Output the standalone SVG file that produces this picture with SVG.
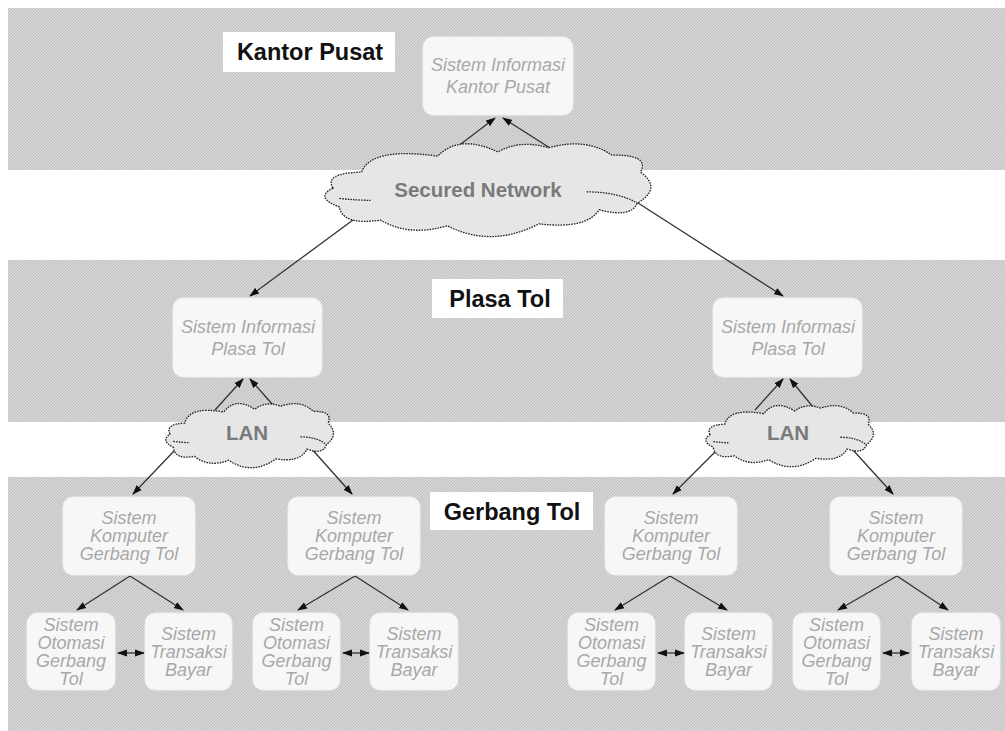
<svg xmlns="http://www.w3.org/2000/svg" xmlns:xlink="http://www.w3.org/1999/xlink" width="1005" height="731" viewBox="0 0 1005 731">
<style>
.band{fill:url(#hatch)}
.lbl{fill:#ffffff}
.lbltxt{font-family:"Liberation Sans",Arial,sans-serif;font-weight:bold;font-size:23.5px;fill:#111;text-anchor:middle}
.node rect{fill:#f7f7f7;stroke:#efefef;stroke-width:1}
.node text{font-family:"Liberation Sans",Arial,sans-serif;font-style:italic;font-size:18px;fill:#a8a8a8;text-anchor:middle}
.cloud{fill:#e6e6e6;stroke:#222;stroke-width:1.3;stroke-dasharray:1.6 1.1}
.inner{fill:none;stroke:#222;stroke-width:1.3;stroke-dasharray:1.6 1.1}
.cloudtxt{font-family:"Liberation Sans",Arial,sans-serif;font-weight:bold;font-size:20.5px;fill:#7a7a7a;text-anchor:middle}
.conn line{stroke:#333;stroke-width:1.3;marker-end:url(#ah)}
.conn line.dbl{marker-start:url(#ah2)}
</style>
<defs>
<pattern id="hatch" patternUnits="userSpaceOnUse" width="3" height="3">
<rect width="3" height="3" fill="#d5d5d5"/>
<path d="M-1,1 L1,-1 M0,3 L3,0 M2,4 L4,2" stroke="#bebebe" stroke-width="0.9"/>
</pattern>
<marker id="ah" markerUnits="userSpaceOnUse" markerWidth="10" markerHeight="8" refX="9" refY="4" orient="auto">
<path d="M0,0.5 L10,4 L0,7.5 Z" fill="#111"/>
</marker>
<marker id="ah2" markerUnits="userSpaceOnUse" markerWidth="10" markerHeight="8" refX="9" refY="4" orient="auto-start-reverse">
<path d="M0,0.5 L10,4 L0,7.5 Z" fill="#111"/>
</marker>
<path id="cloudShape" vector-effect="non-scaling-stroke" d="M0,48 Q-3,32 9,31 Q12,4 33,14 Q40,-10 52,9.6 Q59,-4 68,5 Q80,-6 88,13 Q100,12 97,31 Q104,48 96,64 Q94,80 84,71 Q80,92 65,86 Q50,112 36,88 Q24,100 15,82 Q3,88 2,68 Q-6,58 0,48 Z"/>
<path id="cloudInner" vector-effect="non-scaling-stroke" d="M80,52 Q90,52 96,64 M2,59 Q8,61 12,61"/>
</defs>

<g id="bands">
<rect class="band" x="8" y="8" width="997" height="162"/>
<rect class="band" x="8" y="260" width="997" height="162"/>
<rect class="band" x="8" y="477" width="997" height="254"/>
</g>

<g id="label-kantor-pusat">
<rect class="lbl" x="223" y="32" width="172" height="40"/>
<text class="lbltxt" x="310" y="60">Kantor Pusat</text>
</g>
<g id="label-plasa-tol">
<rect class="lbl" x="432" y="279" width="131" height="39"/>
<text class="lbltxt" x="500" y="307">Plasa Tol</text>
</g>
<g id="label-gerbang-tol">
<rect class="lbl" x="430" y="492" width="163" height="38"/>
<text class="lbltxt" x="512" y="520">Gerbang Tol</text>
</g>

<g id="connectors" class="conn">
<line x1="457" y1="147" x2="495" y2="118"/>
<line x1="550" y1="148" x2="503" y2="118"/>
<line x1="353" y1="220" x2="250" y2="296"/>
<line x1="638" y1="203" x2="783" y2="296"/>
<line x1="215" y1="410" x2="243" y2="379"/>
<line x1="273" y1="405" x2="250" y2="379"/>
<line x1="755" y1="410" x2="783" y2="379"/>
<line x1="813" y1="407" x2="790" y2="379"/>
<line x1="175" y1="450" x2="133" y2="494"/>
<line x1="310" y1="447" x2="352" y2="494"/>
<line x1="715" y1="452" x2="673" y2="494"/>
<line x1="853" y1="450" x2="893" y2="494"/>
<line x1="130" y1="576" x2="77" y2="610"/>
<line x1="130" y1="576" x2="183" y2="610"/>
<line x1="355" y1="576" x2="298" y2="610"/>
<line x1="355" y1="576" x2="408" y2="610"/>
<line x1="670" y1="576" x2="615" y2="610"/>
<line x1="670" y1="576" x2="727" y2="610"/>
<line x1="897" y1="576" x2="838" y2="610"/>
<line x1="897" y1="576" x2="948" y2="610"/>
<line class="dbl" x1="118" y1="653" x2="144" y2="653"/>
<line class="dbl" x1="343" y1="653" x2="369" y2="653"/>
<line class="dbl" x1="658" y1="653" x2="684" y2="653"/>
<line class="dbl" x1="883" y1="653" x2="909" y2="653"/>
</g>

<g id="cloud-secured-network">
<use xlink:href="#cloudShape" class="cloud" transform="translate(333,143) scale(3.17,0.94)"/>
<use xlink:href="#cloudInner" class="inner" transform="translate(333,143) scale(3.17,0.94)"/>
<text class="cloudtxt" x="478" y="197">Secured Network</text>
</g>
<g id="cloud-lan-left">
<use xlink:href="#cloudShape" class="cloud" transform="translate(170,403) scale(1.63,0.65)"/>
<use xlink:href="#cloudInner" class="inner" transform="translate(170,403) scale(1.63,0.65)"/>
<text class="cloudtxt" x="247" y="440">LAN</text>
</g>
<g id="cloud-lan-right">
<use xlink:href="#cloudShape" class="cloud" transform="translate(710,405) scale(1.63,0.62)"/>
<use xlink:href="#cloudInner" class="inner" transform="translate(710,405) scale(1.63,0.62)"/>
<text class="cloudtxt" x="788" y="440">LAN</text>
</g>

<g id="node-si-kantor-pusat" class="node">
<rect x="423" y="37" width="150" height="78" rx="10"/>
<text x="498" y="71">Sistem Informasi</text>
<text x="498" y="93">Kantor Pusat</text>
</g>
<g id="node-si-plasa-tol-1" class="node">
<rect x="173" y="298" width="149" height="79" rx="10"/>
<text x="248" y="333">Sistem Informasi</text>
<text x="248" y="355">Plasa Tol</text>
</g>
<g id="node-si-plasa-tol-2" class="node">
<rect x="713" y="298" width="149" height="79" rx="10"/>
<text x="788" y="333">Sistem Informasi</text>
<text x="788" y="355">Plasa Tol</text>
</g>

<g id="node-skgt-1" class="node">
<rect x="63" y="497" width="132" height="78" rx="10"/>
<text x="129" y="524">Sistem</text>
<text x="129" y="542">Komputer</text>
<text x="129" y="560">Gerbang Tol</text>
</g>
<g id="node-skgt-2" class="node">
<rect x="288" y="497" width="132" height="78" rx="10"/>
<text x="354" y="524">Sistem</text>
<text x="354" y="542">Komputer</text>
<text x="354" y="560">Gerbang Tol</text>
</g>
<g id="node-skgt-3" class="node">
<rect x="605" y="497" width="132" height="78" rx="10"/>
<text x="671" y="524">Sistem</text>
<text x="671" y="542">Komputer</text>
<text x="671" y="560">Gerbang Tol</text>
</g>
<g id="node-skgt-4" class="node">
<rect x="830" y="497" width="132" height="78" rx="10"/>
<text x="896" y="524">Sistem</text>
<text x="896" y="542">Komputer</text>
<text x="896" y="560">Gerbang Tol</text>
</g>

<g id="node-sogt-1" class="node">
<rect x="27" y="613" width="88" height="77" rx="10"/>
<text x="71" y="631">Sistem</text>
<text x="71" y="649">Otomasi</text>
<text x="71" y="667">Gerbang</text>
<text x="71" y="685">Tol</text>
</g>
<g id="node-stb-1" class="node">
<rect x="145" y="613" width="87" height="77" rx="10"/>
<text x="188.5" y="640">Sistem</text>
<text x="188.5" y="658">Transaksi</text>
<text x="188.5" y="676">Bayar</text>
</g>
<g id="node-sogt-2" class="node">
<rect x="253" y="613" width="87" height="77" rx="10"/>
<text x="296.5" y="631">Sistem</text>
<text x="296.5" y="649">Otomasi</text>
<text x="296.5" y="667">Gerbang</text>
<text x="296.5" y="685">Tol</text>
</g>
<g id="node-stb-2" class="node">
<rect x="370" y="613" width="88" height="77" rx="10"/>
<text x="414" y="640">Sistem</text>
<text x="414" y="658">Transaksi</text>
<text x="414" y="676">Bayar</text>
</g>
<g id="node-sogt-3" class="node">
<rect x="568" y="613" width="87" height="77" rx="10"/>
<text x="611.5" y="631">Sistem</text>
<text x="611.5" y="649">Otomasi</text>
<text x="611.5" y="667">Gerbang</text>
<text x="611.5" y="685">Tol</text>
</g>
<g id="node-stb-3" class="node">
<rect x="685" y="613" width="87" height="77" rx="10"/>
<text x="728.5" y="640">Sistem</text>
<text x="728.5" y="658">Transaksi</text>
<text x="728.5" y="676">Bayar</text>
</g>
<g id="node-sogt-4" class="node">
<rect x="793" y="613" width="87" height="77" rx="10"/>
<text x="836.5" y="631">Sistem</text>
<text x="836.5" y="649">Otomasi</text>
<text x="836.5" y="667">Gerbang</text>
<text x="836.5" y="685">Tol</text>
</g>
<g id="node-stb-4" class="node">
<rect x="912" y="613" width="88" height="77" rx="10"/>
<text x="956" y="640">Sistem</text>
<text x="956" y="658">Transaksi</text>
<text x="956" y="676">Bayar</text>
</g>
</svg>
